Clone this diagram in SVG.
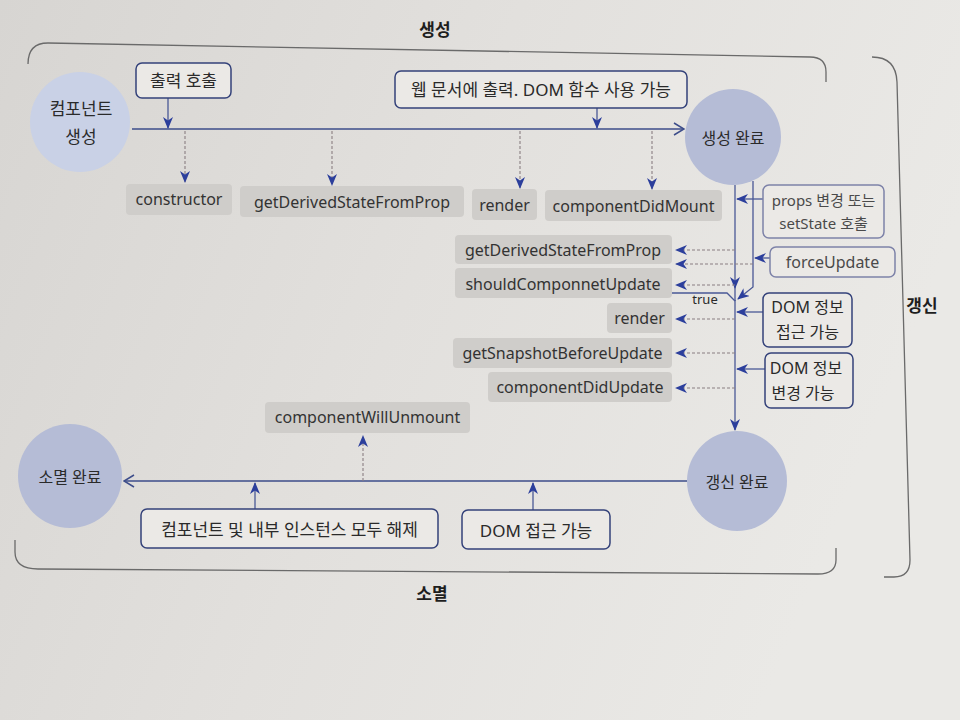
<svg xmlns="http://www.w3.org/2000/svg" width="960" height="720" viewBox="0 0 960 720">
<defs>
<linearGradient id="paper" x1="0" y1="0" x2="1" y2="0.3">
<stop offset="0" stop-color="#d7d5d2"/>
<stop offset="0.5" stop-color="#e2e0dd"/>
<stop offset="1" stop-color="#eae9e6"/>
</linearGradient>
<marker id="solid" viewBox="0 0 12 10" refX="11" refY="5" markerWidth="12" markerHeight="10" markerUnits="userSpaceOnUse" orient="auto">
<path d="M0,0 L12,5 L0,10 L3.5,5 Z" fill="#2c3f9c"/>
</marker>
<marker id="chev" viewBox="0 0 12 14" refX="11" refY="7" markerWidth="12" markerHeight="14" markerUnits="userSpaceOnUse" orient="auto">
<path d="M1,1 L11,7 L1,13" fill="none" stroke="#3d4d8a" stroke-width="1.5"/>
</marker>
</defs>
<style>
text{font-family:"Noto Sans","Noto Sans CJK KR",sans-serif;fill:#2a2a2a;text-anchor:middle;dominant-baseline:central}
.ko{font-size:17px}
.lat{font-size:16px;fill:#333}
.title{font-size:17px;font-weight:bold;fill:#1e1e1e}
.circle{fill:#b5bcd6}
.circle.light{fill:#c9d1e6}
.gray{fill:#cfcdca}
.box{fill:#ebe9e6;stroke:#34427a;stroke-width:1.5}
.box.soft{stroke:#7d82a8}
.soft-text{fill:#4a4a4a}
.bracket{fill:none;stroke:#6a6a6a;stroke-width:1.3}
.main{fill:none;stroke:#3d4d8a;stroke-width:1.6}
.arr{fill:none;stroke:#4a5896;stroke-width:1.3}
.dash{fill:none;stroke:#8a7f82;stroke-width:1.1;stroke-dasharray:3 2}
.small{font-size:13px}
</style>
<rect x="0" y="0" width="960" height="720" fill="url(#paper)"/>

<g id="brackets">
<path class="bracket" d="M28 64 Q28 43 48 43 L810 57 Q826 57 826 72 L826 82"/>
<path class="bracket" d="M872 57 Q896 57 897 82 L910 560 Q910 577 894 577 L884 577"/>
<path class="bracket" d="M15 540 L15 552 Q15 569 38 569 L818 574 Q836 574 836 560 L836 548"/>
</g>
<g id="titles">
<text class="title" x="435" y="29">생성</text>
<text class="title" x="432" y="593">소멸</text>
<text class="title" x="922" y="305">갱신</text>
</g>

<g id="connectors">
<path class="main" d="M132 129 L684 129" marker-end="url(#chev)"/>
<path class="main" d="M687 481 L124 481" marker-end="url(#chev)"/>
<path class="arr" d="M168 98 L168 128" marker-end="url(#solid)"/>
<path class="arr" d="M597 108 L597 128" marker-end="url(#solid)"/>
<path class="dash" d="M185 131 L185 182" marker-end="url(#solid)"/>
<path class="dash" d="M332 131 L332 185" marker-end="url(#solid)"/>
<path class="dash" d="M520 131 L520 188" marker-end="url(#solid)"/>
<path class="dash" d="M652 131 L652 189" marker-end="url(#solid)"/>
<path class="arr" d="M735 185 L735 288" marker-end="url(#solid)"/>
<path class="arr" d="M735 287 L735 301"/>
<path class="arr" d="M753 181 L753 287 L738 299" marker-end="url(#solid)"/>
<path class="arr" d="M672 293 L727 293 L735 301"/>
<path class="arr" d="M735 300 L735 430" marker-end="url(#solid)"/>
<path class="arr" d="M763 199 L737 199" marker-end="url(#solid)"/>
<path class="arr" d="M770 258 L755 258" marker-end="url(#solid)"/>
<path class="arr" d="M763 312 L737 312" marker-end="url(#solid)"/>
<path class="arr" d="M765 369 L737 369" marker-end="url(#solid)"/>
<path class="dash" d="M735 250 L676 250" marker-end="url(#solid)"/>
<path class="dash" d="M753 264 L676 264" marker-end="url(#solid)"/>
<path class="dash" d="M735 285 L676 285" marker-end="url(#solid)"/>
<path class="dash" d="M735 319 L676 319" marker-end="url(#solid)"/>
<path class="dash" d="M735 353 L676 353" marker-end="url(#solid)"/>
<path class="dash" d="M735 388 L676 388" marker-end="url(#solid)"/>
<path class="dash" d="M363 481 L363 436" marker-end="url(#solid)"/>
<path class="arr" d="M255 509 L255 483" marker-end="url(#solid)"/>
<path class="arr" d="M533 510 L533 483" marker-end="url(#solid)"/>
<text class="small" x="705" y="299">true</text>
</g>

<g id="node-create">
<circle class="circle light" cx="80" cy="122" r="50"/>
<text class="ko" x="81" y="108">컴포넌트</text>
<text class="ko" x="81" y="136">생성</text>
</g>
<g id="node-created">
<circle class="circle" cx="733" cy="137" r="48"/>
<text class="ko" x="733" y="138" style="font-size:16px">생성 완료</text>
</g>
<g id="node-unmounted">
<circle class="circle" cx="70" cy="476" r="52"/>
<text class="ko" x="70" y="477" style="font-size:16px">소멸 완료</text>
</g>
<g id="node-updated">
<circle class="circle" cx="737" cy="481" r="50"/>
<text class="ko" x="737" y="482" style="font-size:16px">갱신 완료</text>
</g>

<g id="note-render-call">
<rect class="box" x="136" y="63" width="95" height="35" rx="6"/>
<text class="ko" x="183.5" y="80">출력 호출</text>
</g>
<g id="note-dom">
<rect class="box" x="395" y="71" width="292" height="37" rx="6"/>
<text class="ko" x="541" y="89">웹 문서에 출력. DOM 함수 사용 가능</text>
</g>

<g id="m-constructor">
<rect class="gray" x="126" y="184" width="106" height="31" rx="4"/>
<text class="lat" x="179" y="199">constructor</text>
</g>
<g id="m-gdsfp1">
<rect class="gray" x="240" y="186" width="224" height="31" rx="4"/>
<text class="lat" x="352" y="202">getDerivedStateFromProp</text>
</g>
<g id="m-render1">
<rect class="gray" x="472" y="189" width="65" height="31" rx="4"/>
<text class="lat" x="504.5" y="205">render</text>
</g>
<g id="m-didmount">
<rect class="gray" x="545" y="190" width="177" height="31" rx="4"/>
<text class="lat" x="633.5" y="206">componentDidMount</text>
</g>

<g id="m-gdsfp2">
<rect class="gray" x="455" y="235" width="217" height="29" rx="4"/>
<text class="lat" x="563" y="250">getDerivedStateFromProp</text>
</g>
<g id="m-scu">
<rect class="gray" x="455" y="268" width="217" height="30" rx="4"/>
<text class="lat" x="563" y="284">shouldComponnetUpdate</text>
</g>
<g id="m-render2">
<rect class="gray" x="607" y="303" width="65" height="30" rx="4"/>
<text class="lat" x="639.5" y="318">render</text>
</g>
<g id="m-gsbu">
<rect class="gray" x="453" y="338" width="219" height="30" rx="4"/>
<text class="lat" x="562.5" y="353">getSnapshotBeforeUpdate</text>
</g>
<g id="m-didupdate">
<rect class="gray" x="488" y="372" width="184" height="30" rx="4"/>
<text class="lat" x="580" y="387">componentDidUpdate</text>
</g>

<g id="note-props">
<rect class="box soft" x="763" y="185" width="121" height="53" rx="6"/>
<text class="ko soft-text" x="823.5" y="200" style="font-size:15px">props 변경 또는</text>
<text class="ko soft-text" x="823.5" y="223" style="font-size:15px">setState 호출</text>
</g>
<g id="note-force">
<rect class="box soft" x="770" y="247" width="125" height="30" rx="6"/>
<text class="lat soft-text" x="832.5" y="262">forceUpdate</text>
</g>
<g id="note-dom-read">
<rect class="box" x="763" y="293" width="89" height="54" rx="6"/>
<text class="ko" x="807.5" y="307" style="font-size:16px">DOM 정보</text>
<text class="ko" x="807.5" y="332" style="font-size:16px">접근 가능</text>
</g>
<g id="note-dom-write">
<rect class="box" x="765" y="353" width="88" height="55" rx="6"/>
<text class="ko" x="806" y="368" style="font-size:16px">DOM 정보</text>
<text class="ko" x="803" y="393" style="font-size:16px">변경 가능</text>
</g>

<g id="m-willunmount">
<rect class="gray" x="265" y="402" width="205" height="31" rx="4"/>
<text class="lat" x="367.5" y="417">componentWillUnmount</text>
</g>
<g id="note-release">
<rect class="box" x="141" y="509" width="297" height="39" rx="6"/>
<text class="ko" x="289.5" y="529">컴포넌트 및 내부 인스턴스 모두 해제</text>
</g>
<g id="note-dom-access">
<rect class="box" x="462" y="510" width="148" height="39" rx="6"/>
<text class="ko" x="536" y="530">DOM 접근 가능</text>
</g>
</svg>
